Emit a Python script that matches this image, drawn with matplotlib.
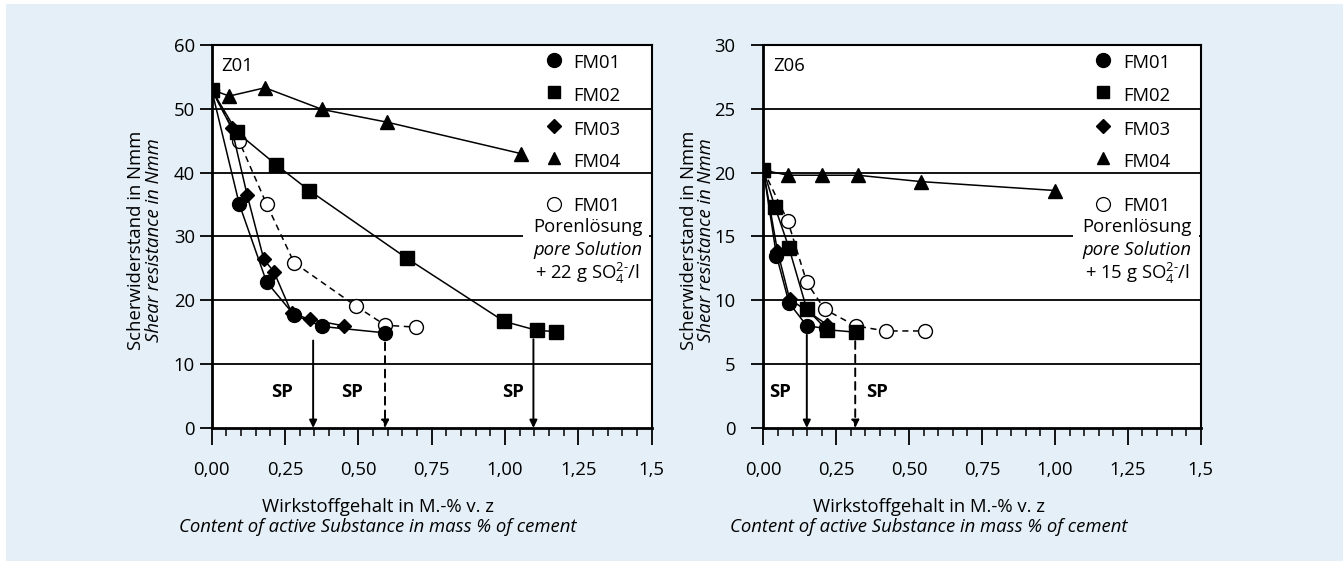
import matplotlib
matplotlib.use("Agg")
import numpy as np
import matplotlib.pyplot as plt
from matplotlib.patches import Rectangle

plt.rcParams['font.family'] = ['Open Sans', 'DejaVu Sans']
plt.rcParams['mathtext.fontset'] = 'custom'
plt.rcParams['mathtext.rm'] = 'Open Sans'
plt.rcParams['mathtext.it'] = 'Open Sans:italic'

FS = 13.3

# ---- data: Z01 (left) ----
z01_fm01_x = [0.0, 0.094, 0.187, 0.281, 0.377, 0.592]
z01_fm01_y = [53.0, 35.1, 22.9, 17.7, 15.9, 14.9]
z01_fm02_x = [0.0, 0.087, 0.221, 0.333, 0.665, 0.997, 1.108, 1.174]
z01_fm02_y = [53.0, 46.3, 41.2, 37.2, 26.6, 16.7, 15.3, 15.1]
z01_fm03_x = [0.0, 0.068, 0.121, 0.178, 0.212, 0.273, 0.335, 0.451]
z01_fm03_y = [53.0, 47.0, 36.5, 26.4, 24.5, 18.0, 17.0, 16.0]
z01_fm04_x = [0.0, 0.060, 0.182, 0.377, 0.599, 1.053]
z01_fm04_y = [53.0, 52.0, 53.3, 49.9, 47.9, 43.0]
z01_pore_x = [0.0, 0.094, 0.187, 0.281, 0.492, 0.592, 0.695]
z01_pore_y = [53.0, 44.9, 35.1, 25.9, 19.1, 16.1, 15.8]
z01_sp_x = [0.346, 0.591, 1.097]
z01_sp_top = [14.9, 14.6, 15.1]
z01_sp_dashed = [False, True, False]
z01_sp_label_x = [0.241, 0.479, 1.028]

# ---- data: Z06 (right) ----
z06_fm01_x = [0.0, 0.045, 0.088, 0.149, 0.215]
z06_fm01_y = [20.2, 13.5, 9.8, 8.0, 7.8]
z06_fm02_x = [0.0, 0.040, 0.088, 0.149, 0.218, 0.318]
z06_fm02_y = [20.2, 17.3, 14.1, 9.3, 7.7, 7.5]
z06_fm03_x = [0.0, 0.048, 0.090, 0.218]
z06_fm03_y = [20.2, 13.9, 10.1, 8.1]
z06_fm04_x = [0.0, 0.084, 0.200, 0.323, 0.540, 1.001]
z06_fm04_y = [20.2, 19.8, 19.8, 19.8, 19.3, 18.6]
z06_pore_x = [0.0, 0.084, 0.149, 0.210, 0.316, 0.419, 0.555]
z06_pore_y = [20.2, 16.2, 11.4, 9.3, 8.0, 7.6, 7.6]
z06_sp_x = [0.149, 0.315]
z06_sp_top = [7.9, 7.4]
z06_sp_dashed = [False, True]
z06_sp_label_x = [0.057, 0.391]

xticks = [0.0, 0.25, 0.5, 0.75, 1.0, 1.25, 1.5]
xticklabels = ['0,00', '0,25', '0,50', '0,75', '1,00', '1,25', '1,5']

bg = '#e4eff7'
fig = plt.figure(figsize=(13.43, 5.61), dpi=100)
fig.patches.append(Rectangle((6 / 1343, 0), 1, 1 - 4 / 561, transform=fig.transFigure,
                             facecolor=bg, edgecolor='none', zorder=-10))

ax1 = fig.add_axes([0.1576, 0.2371, 0.3276, 0.6827])
ax2 = fig.add_axes([0.5684, 0.2371, 0.3257, 0.6827])


def draw_panel(ax, series, pore, sp_x, sp_top, sp_dashed, sp_lx, ymax, ystep,
               tag, sulfate, ylpad):
    ax.set_xlim(0, 1.5)
    ax.set_ylim(0, ymax)
    for yv in np.arange(ystep, ymax, ystep):
        ax.axhline(yv, color='black', lw=1.3, zorder=1)

    # dashed pore-solution series sits underneath the filled markers
    ax.plot(pore[0], pore[1], color='black', lw=1.1, ls=(0, (4, 3)), marker='o', ms=10,
            mfc='white', mec='black', zorder=3.5)
    specs = [('o', 10), ('s', 10), ('D', 7.5), ('^', 10)]
    for (xs, ys), (m, ms) in zip(series, specs):
        ax.plot(xs, ys, color='black', lw=1.1, marker=m, ms=ms,
                mfc='black', mec='black', zorder=4)

    for xv, top, dsh, lx in zip(sp_x, sp_top, sp_dashed, sp_lx):
        ax.annotate('', xy=(xv, 0), xytext=(xv, top - 0.02 * ymax),
                    arrowprops=dict(arrowstyle='-|>,head_length=0.45,head_width=0.22',
                                    color='black', lw=1.4,
                                    ls=(0, (4, 3)) if dsh else '-',
                                    shrinkA=0, shrinkB=0), zorder=3)
        ax.text(lx, 0.095 * ymax, 'SP', fontsize=FS, fontweight='bold', ha='center',
                va='center')

    ax.text(0.022, 0.945, tag, transform=ax.transAxes, fontsize=FS, va='center')

    # legend block
    ax.add_patch(Rectangle((0.708, 0.385), 0.287, 0.225, transform=ax.transAxes,
                           facecolor='white', edgecolor='none', zorder=2))
    rows = [('o', 0.956, 'FM01', 10), ('s', 0.872, 'FM02', 9), ('D', 0.783, 'FM03', 7.5),
            ('^', 0.698, 'FM04', 9)]
    for m, yf, lab, ms in rows:
        ax.plot([0.777], [yf + 0.006], transform=ax.transAxes, marker=m, ms=ms,
                color='black', clip_on=False, zorder=6)
        ax.text(0.822, yf - 0.004, lab, transform=ax.transAxes, fontsize=FS, va='center',
                zorder=6)
    ax.plot([0.777], [0.586], transform=ax.transAxes, marker='o', ms=10, mfc='white',
            mec='black', mew=0.9, clip_on=False, zorder=6)
    ax.text(0.822, 0.580, 'FM01', transform=ax.transAxes, fontsize=FS, va='center', zorder=6)
    ax.text(0.855, 0.526, 'Porenlösung', transform=ax.transAxes, fontsize=FS, va='center',
            ha='center', zorder=6)
    ax.text(0.855, 0.465, 'pore Solution', transform=ax.transAxes, fontsize=FS,
            style='italic', va='center', ha='center', zorder=6)
    ax.text(0.855, 0.404, '+ ' + sulfate + r' g SO$_4^{2\text{-}}$/l', transform=ax.transAxes,
            fontsize=FS, va='center', ha='center', zorder=6)

    ax.set_xticks(xticks)
    ax.set_xticklabels(xticklabels)
    ax.set_xticks(np.arange(0, 1.5001, 0.05), minor=True)
    ax.set_yticks(np.arange(0, ymax + 0.001, ystep))
    ax.tick_params(axis='x', which='major', direction='out', length=12, width=1.3,
                   pad=12, labelsize=FS)
    ax.tick_params(axis='x', which='minor', direction='out', length=6, width=1.1)
    ax.tick_params(axis='y', which='major', direction='out', length=9, width=1.3,
                   pad=ylpad, labelsize=FS)
    for side in ['left', 'bottom']:
        ax.spines[side].set_linewidth(2.0)
    for side in ['top', 'right']:
        ax.spines[side].set_linewidth(1.5)

    # axis labels
    ax.text(0.378, -0.205, 'Wirkstoffgehalt in M.-% v. z', transform=ax.transAxes,
            fontsize=FS, ha='center', va='center')
    ax.text(0.378, -0.258, 'Content of active Substance in mass % of cement',
            transform=ax.transAxes, fontsize=FS, style='italic', ha='center', va='center')
    ax.text(-0.171, 0.49, 'Scherwiderstand in Nmm', transform=ax.transAxes, fontsize=FS,
            rotation=90, ha='center', va='center')
    ax.text(-0.131, 0.49, 'Shear resistance in Nmm', transform=ax.transAxes, fontsize=FS,
            style='italic', rotation=90, ha='center', va='center')


draw_panel(ax1,
           [(z01_fm01_x, z01_fm01_y), (z01_fm02_x, z01_fm02_y),
            (z01_fm03_x, z01_fm03_y), (z01_fm04_x, z01_fm04_y)],
           (z01_pore_x, z01_pore_y), z01_sp_x, z01_sp_top, z01_sp_dashed, z01_sp_label_x,
           60, 10, 'Z01', '22', 3)
draw_panel(ax2,
           [(z06_fm01_x, z06_fm01_y), (z06_fm02_x, z06_fm02_y),
            (z06_fm03_x, z06_fm03_y), (z06_fm04_x, z06_fm04_y)],
           (z06_pore_x, z06_pore_y), z06_sp_x, z06_sp_top, z06_sp_dashed, z06_sp_label_x,
           30, 5, 'Z06', '15', 11)

fig.savefig('out.png', dpi=100, facecolor='white')
